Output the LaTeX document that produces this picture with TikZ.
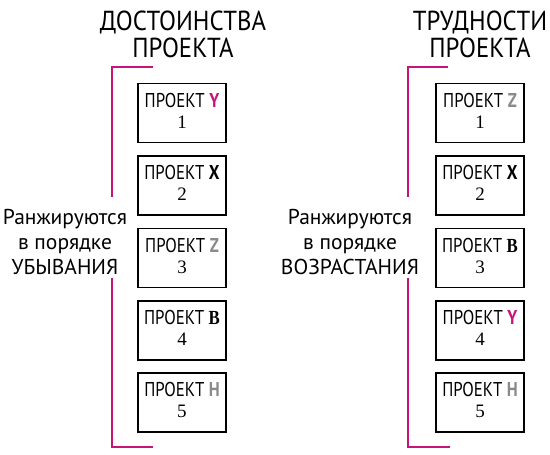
\documentclass[tikz,border=0pt]{standalone}
\usepackage{fontspec}
\setmainfont{PT Sans}
\newfontfamily\numfont{Liberation Serif}
\definecolor{brkc}{HTML}{C8147A}
\definecolor{grc}{HTML}{8A8A8A}
\newcommand{\pY}{\textcolor{brkc}{\textbf{Y}}}
\newcommand{\pZ}{\textcolor{grc}{\textbf{Z}}}
\newcommand{\pH}{\textcolor{grc}{\textbf{H}}}
\newcommand{\pX}{\textbf{X}}
\newcommand{\pB}{{\numfont\textbf{B}}}
\newcommand{\proj}[2]{\scalebox{0.84}[1]{ПРОЕКТ #1}\\{\numfont\fontsize{19}{21}\selectfont #2}}
\newcommand{\ttl}[1]{\scalebox{0.9}[1]{#1}}
\begin{document}
\begin{tikzpicture}[x=1pt,y=-1pt,
  box/.style={draw,line width=1.6pt,minimum width=88pt,minimum height=59pt,inner sep=0pt,align=center,
    text depth=5pt,font=\fontsize{20}{21}\selectfont},
  brk/.style={draw=brkc,line width=2.4pt},
  title/.style={font=\fontsize{27.5}{27}\selectfont,align=center},
  hand/.style={font=\fontsize{21.5}{25}\selectfont,align=center}]
\useasboundingbox (0,0) rectangle (550,455);
% titles
\node[title] (t1) at (183,34) {\ttl{ДОСТОИНСТВА}\\\ttl{ПРОЕКТА}};
\node[title] (t2) at (480,34) {\ttl{ТРУДНОСТИ}\\\ttl{ПРОЕКТА}};
% left boxes
\node[box] (l1) at (182,113)   {\proj{\pY}{1}};
\node[box] (l2) at (182,185.5) {\proj{\pX}{2}};
\node[box] (l3) at (182,258)   {\proj{\pZ}{3}};
\node[box] (l4) at (182,330.5) {\proj{\pB}{4}};
\node[box] (l5) at (182,402.5) {\proj{\pH}{5}};
% right boxes
\node[box] (r1) at (480,113)   {\proj{\pZ}{1}};
\node[box] (r2) at (480,185.5) {\proj{\pX}{2}};
\node[box] (r3) at (480,258)   {\proj{\pB}{3}};
\node[box] (r4) at (480,330.5) {\proj{\pY}{4}};
\node[box] (r5) at (480,402.5) {\proj{\pH}{5}};
% side texts
\node[hand] (h1) at (65,242) {Ранжируются\\в порядке\\УБЫВАНИЯ};
\node[hand] (h2) at (350,242) {Ранжируются\\в порядке\\ВОЗРАСТАНИЯ};
% brackets
\draw[brk] (153,67) -| (112,197);
\draw[brk] (112,278) |- (153,447);
\draw[brk] (448,67) -| (408,197);
\draw[brk] (408,278) |- (450,447);
\end{tikzpicture}
\end{document}
